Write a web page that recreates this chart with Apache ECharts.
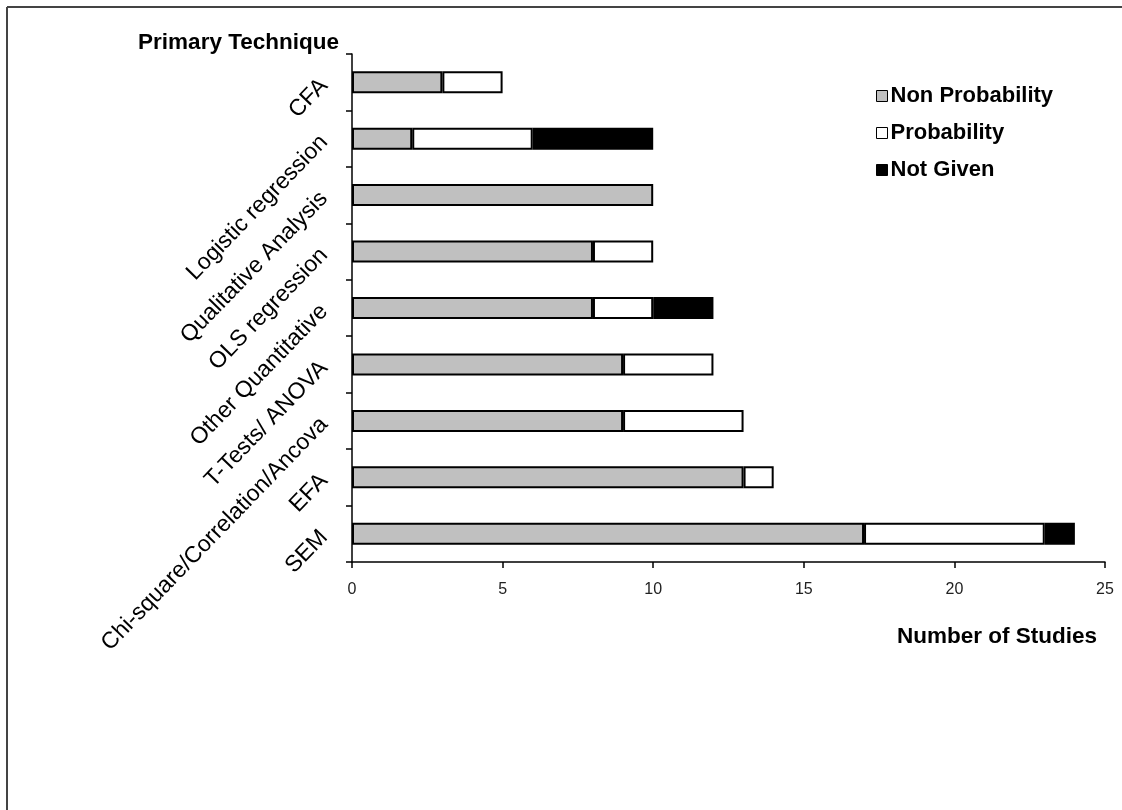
<!DOCTYPE html>
<html>
<head>
<meta charset="utf-8">
<script src="https://cdn.jsdelivr.net/npm/echarts@6/dist/echarts.min.js"></script>
<style>
html,body{margin:0;padding:0;background:#fff;}
#chart{width:1122px;height:810px;}
</style>
</head>
<body>
<div id="chart"></div>
<script>
const categories = ["CFA", "Logistic regression", "Qualitative Analysis", "OLS regression", "Other Quantitative", "T-Tests/ ANOVA", "Chi-square/Correlation/Ancova", "EFA", "SEM"];
const nonProbability = [3, 2, 10, 8, 8, 9, 9, 13, 17];
const probability = [2, 4, 0, 2, 2, 3, 4, 1, 6];
const notGiven = [0, 4, 0, 0, 2, 0, 0, 0, 1];
const xTicks = [0, 5, 10, 15, 20, 25];

const FONT = '"Liberation Sans", Arial, sans-serif';
const NARROW = '"Liberation Sans Narrow", "Arial Narrow", "Liberation Sans", sans-serif';

const chart = echarts.init(document.getElementById('chart'));

function mk(name, data, color) {
  return {
    name: name,
    type: 'bar',
    stack: 'total',
    barWidth: 22,
    data: data.map(v => v === 0 ? null : v),
    itemStyle: { color: color, borderColor: '#000', borderWidth: 2 },
    emphasis: { disabled: true }
  };
}

chart.setOption({
  backgroundColor: '#fff',
  animation: false,
  grid: { left: 352, right: 17, top: 54, bottom: 248, containLabel: false },
  legend: {
    orient: 'vertical',
    left: 871,
    top: 80,
    itemWidth: 11,
    itemHeight: 11,
    itemGap: 15,
    icon: 'rect',
    textStyle: { fontFamily: FONT, fontWeight: 'bold', fontSize: 22, color: '#000', padding: [0, 0, 0, -2] },
    itemStyle: { borderColor: '#000', borderWidth: 1 },
    data: ['Non Probability', 'Probability', 'Not Given']
  },
  xAxis: {
    type: 'value',
    min: xTicks[0],
    max: xTicks[xTicks.length - 1],
    interval: xTicks[1] - xTicks[0],
    splitLine: { show: false },
    axisLine: { show: true, lineStyle: { color: '#000', width: 1.5 } },
    axisTick: { show: true, length: 6, lineStyle: { color: '#000', width: 1.5 } },
    axisLabel: { fontFamily: NARROW, fontSize: 16, color: '#222', margin: 20 }
  },
  yAxis: {
    type: 'category',
    inverse: true,
    data: categories,
    axisLine: { show: true, lineStyle: { color: '#000', width: 1.5 } },
    axisTick: { show: true, length: 6, alignWithLabel: false, lineStyle: { color: '#000', width: 1.5 } },
    axisLabel: { rotate: 46, fontFamily: FONT, fontSize: 23, color: '#000', margin: 28, interval: 0 }
  },
  series: [
    mk('Non Probability', nonProbability, '#c0c0c0'),
    mk('Probability', probability, '#ffffff'),
    mk('Not Given', notGiven, '#000000')
  ],
  graphic: [
    { type: 'line', shape: { x1: 7, y1: 7, x2: 1122, y2: 7 }, style: { stroke: '#444', lineWidth: 2 } },
    { type: 'line', shape: { x1: 7, y1: 7, x2: 7, y2: 810 }, style: { stroke: '#444', lineWidth: 2 } },
    { type: 'text', style: { text: 'Primary Technique', x: 339, y: 43, textAlign: 'right', textVerticalAlign: 'middle', font: 'bold 22.5px ' + FONT, fill: '#000' } },
    { type: 'text', style: { text: 'Number of Studies', x: 1097, y: 637, textAlign: 'right', textVerticalAlign: 'middle', font: 'bold 22.5px ' + FONT, fill: '#000' } }
  ]
});
</script>
</body>
</html>
